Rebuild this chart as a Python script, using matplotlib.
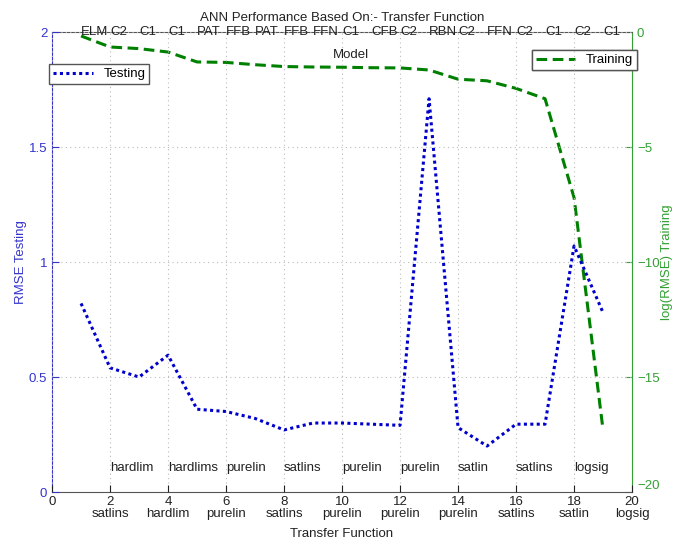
import matplotlib
matplotlib.use("Agg")
import matplotlib.pyplot as plt

plt.rcParams["font.family"] = ["Liberation Sans", "DejaVu Sans"]

# one entry per ANN model, x = 1..19
model_index = list(range(1, 20))
model_names = ["ELM", "C2", "C1", "C1", "PAT", "FFB", "PAT", "FFB", "FFN", "C1",
               "CFB", "C2", "RBN", "C2", "FFN", "C2", "C1", "C2", "C1"]
rmse_testing = [0.82, 0.54, 0.50, 0.595, 0.36, 0.35, 0.32, 0.27, 0.30, 0.30,
                0.295, 0.29, 1.71, 0.28, 0.20, 0.295, 0.295, 1.07, 0.78]
log_rmse_training = [-0.17, -0.65, -0.72, -0.87, -1.3, -1.32, -1.42, -1.5, -1.52, -1.53,
                     -1.55, -1.56, -1.65, -2.05, -2.12, -2.45, -2.9, -7.2, -17.3]

# transfer function names: below the axis at even ticks, inside the plot between them
tick_positions = [0, 2, 4, 6, 8, 10, 12, 14, 16, 18, 20]
tick_functions = ["", "satlins", "hardlim", "purelin", "satlins", "purelin",
                  "purelin", "purelin", "satlins", "satlin", "logsig"]
inner_positions = [2, 4, 6, 8, 10, 12, 14, 16, 18]
inner_functions = ["hardlim", "hardlims", "purelin", "satlins", "purelin",
                   "purelin", "satlin", "satlins", "logsig"]

blue = "#0000cc"
green = "#008000"
label_blue = "#3333cc"
label_green = "#33a033"

fig = plt.figure(figsize=(6.76, 5.45), dpi=100)
ax = fig.add_axes([0.077, 0.0972, 0.858, 0.844])
ax2 = ax.twinx()

ax.plot(model_index, rmse_testing, linestyle=(0, (1, 1.1)), color=blue, linewidth=2.2, label="Testing")
ax2.plot(model_index, log_rmse_training, linestyle=(0, (3.5, 1.8)), color=green, linewidth=2.2, label="Training")

ax.set_xlim(0, 20)
ax.set_ylim(0, 2)
ax2.set_ylim(-20, 0)
ax.set_yticks([0, 0.5, 1, 1.5, 2])
ax.set_yticklabels(["0", "0.5", "1", "1.5", "2"])
ax2.set_yticks([0, -5, -10, -15, -20])
ax.set_xticks(tick_positions)
ax.set_xticklabels([f"{p}\n{name}" if name else f"{p}"
                    for p, name in zip(tick_positions, tick_functions)], linespacing=0.95)

ax.tick_params(axis="x", direction="in", length=5, labelsize=9.5, colors="#222222", pad=3)
ax.tick_params(axis="y", direction="in", length=5, labelsize=9.5, colors=label_blue)
ax2.tick_params(axis="y", direction="in", length=5, labelsize=9.5, colors=label_green)
for lbl in ax2.get_yticklabels():
    if lbl.get_text() == "\u221220" or lbl.get_text() == "-20":
        lbl.set_verticalalignment("bottom")

ax.grid(True, linestyle=(0, (1, 3)), color="#bbbbbb", linewidth=0.8)

for side in ["top", "bottom"]:
    ax2.spines[side].set_color("#555555")
ax2.spines["left"].set_color(label_blue)
ax2.spines["right"].set_color(label_green)
for spine in ax.spines.values():
    spine.set_visible(False)

ax.set_ylabel("RMSE Testing", color=label_blue, fontsize=9.5, labelpad=1)
ax2.set_ylabel("log(RMSE) Training", color=label_green, fontsize=9.5, labelpad=1)
ax.set_xlabel("Transfer Function", fontsize=9.5, color="#222222", labelpad=6)
ax.set_title("ANN Performance Based On:- Transfer Function", fontsize=9.5, color="#222222", pad=8)

for x, name in zip(model_index, model_names):
    ax.text(x, 2.0, name, ha="left", va="center", fontsize=9.5, color="#222222", clip_on=False)
ax.text(10.3, 1.9, "Model", ha="center", va="center", fontsize=9.5, color="#222222")

for x, name in zip(inner_positions, inner_functions):
    ax.text(x, 0.105, name, ha="left", va="center", fontsize=9.5, color="#222222")

leg1 = ax.legend(loc="upper left", bbox_to_anchor=(-0.016, 0.945), fontsize=9.5, fancybox=False,
                 edgecolor="#555555", handlelength=3, borderpad=0.3, framealpha=1)
leg2 = ax2.legend(loc="upper right", bbox_to_anchor=(1.02, 0.975), fontsize=9.5, fancybox=False,
                  edgecolor="#555555", handlelength=3, borderpad=0.3, framealpha=1)
ax2.add_artist(leg2)
ax.set_zorder(ax2.get_zorder() + 1)
ax.patch.set_visible(False)

fig.savefig("out.png", dpi=100)
